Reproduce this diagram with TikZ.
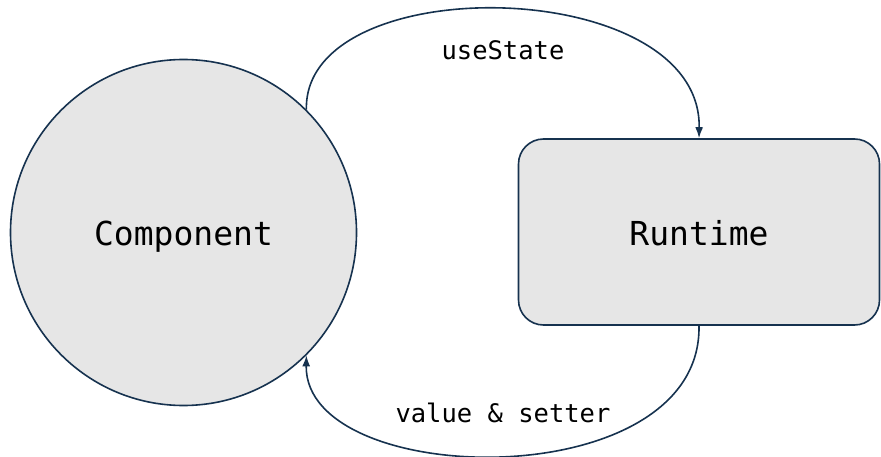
\documentclass[tikz,border=0pt]{standalone}
\usepackage{fontspec}
\setmonofont{DejaVu Sans Mono}
\usetikzlibrary{arrows.meta}
\definecolor{edge}{RGB}{22,50,79}
\definecolor{fillgrey}{RGB}{230,230,230}
\tikzset{
  shapebox/.style={draw=edge, fill=fillgrey, line width=1.6pt, text height=27pt, text depth=0pt, font=\ttfamily\fontsize{33}{38}\selectfont},
  conn/.style={draw=edge, line width=1.6pt, -{Latex[length=11pt,width=8pt]}},
  lbl/.style={font=\ttfamily\fontsize{25.5}{30}\selectfont, text=black}
}
\begin{document}
\begin{tikzpicture}[x=1pt,y=-1pt]
\useasboundingbox (0,0) rectangle (881,457);
\node[shapebox, circle, minimum size=346pt, inner sep=0pt] (C) at (183.5,232.5) {Component};
\node[shapebox, rectangle, rounded corners=25pt, minimum width=361pt, minimum height=186pt, inner sep=0pt] (R) at (699,232) {Runtime};
\draw[conn] (C.45) .. controls (303,-32) and (702,-26) .. (R.north);
\draw[conn] (R.south) .. controls (702,498) and (304,490) .. (C.-45);
\node[lbl] (l1) at (503,50) {useState};
\node[lbl] (l2) at (503,413) {value \& setter};
\end{tikzpicture}
\end{document}
